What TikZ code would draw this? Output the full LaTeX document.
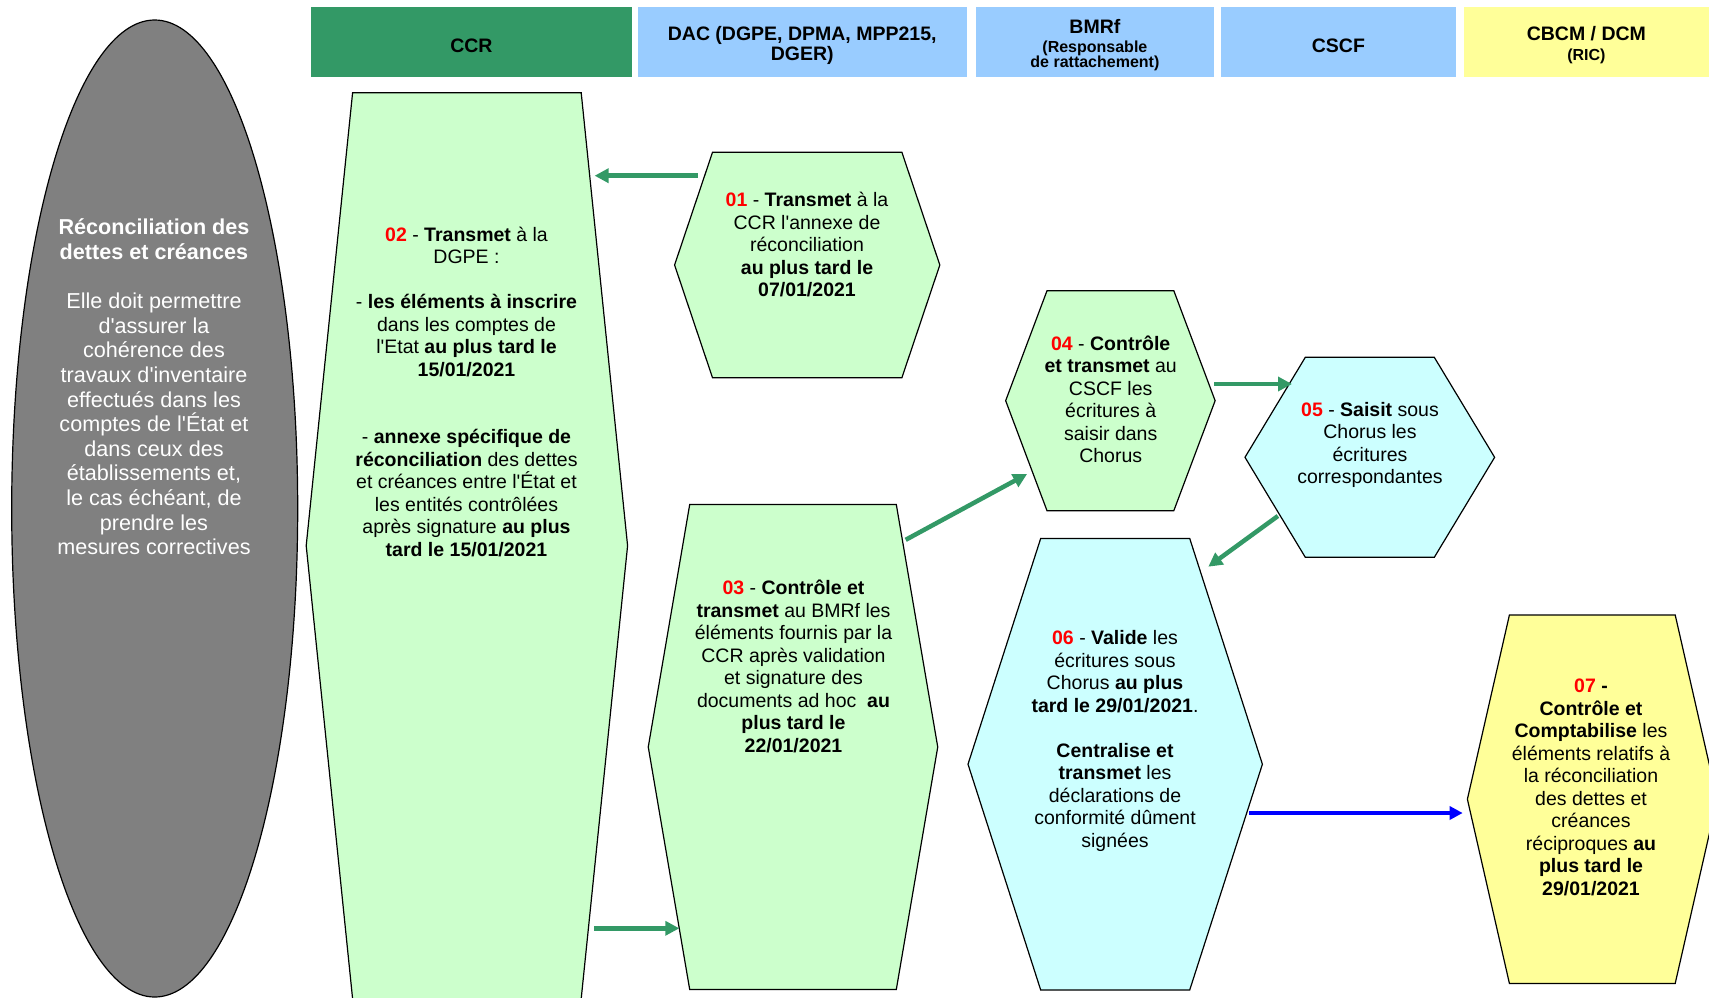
\documentclass[tikz,border=0pt]{standalone}
\usepackage{fontspec}
\newfontfamily\arialfont{Liberation Sans}
\usepackage{tikz}
\usetikzlibrary{shapes.geometric, shapes.symbols, arrows.meta, positioning}
\definecolor{ccrgreen}{RGB}{51,153,102}
\definecolor{headblue}{RGB}{153,204,255}
\definecolor{paleyellow}{RGB}{255,255,153}
\definecolor{palegreen}{RGB}{204,255,204}
\definecolor{palecyan}{RGB}{204,255,255}
\definecolor{introgray}{RGB}{128,128,128}
\newcommand{\smallhead}{\fontsize{16}{17}\selectfont}
\newcommand{\headstrut}{\rule{0pt}{21pt}} % text sits a bit low in the header
\newcommand{\stepno}[1]{\textcolor{red}{\textbf{#1}}}

\begin{document}
\begin{tikzpicture}[
			x=1pt, y=-1pt,
			every node/.style={font=\arialfont},
			colhead/.style={
					rectangle,
					minimum height=70pt,
					inner sep=0pt,
					align=center,
					font=\arialfont\bfseries\fontsize{19.5}{20}\selectfont
				},
			hexa/.style n args={3}{
					shape=signal,
					signal from=nowhere,
					signal to=east and west,
					draw=black,
					line width=1.2pt,
					minimum width=0pt,
					minimum height=0pt,
					inner xsep=#1pt, % half of the top edge
					inner ysep=#2pt, % half of the height
					signal pointer angle=#3
				},
			txt/.style={
					align=center,
					inner sep=0pt,
					font=\arialfont\fontsize{19.5}{22.5}\selectfont
				},
			garrow/.style={draw=ccrgreen, line width=4.5pt, -{Triangle[length=14pt, width=14pt]}},
			barrow/.style={draw=blue, line width=4.5pt, -{Triangle[length=13pt, width=13pt]}}
		]
		\useasboundingbox (0,0) rectangle (1709,997);
		\clip (0,0) rectangle (1709,997);

		% column headers
		\node[colhead, fill=ccrgreen, minimum width=321.6pt] (ccr) at (471.4,41.7) {\headstrut CCR};
		\node[colhead, fill=headblue, minimum width=329.2pt] (dac) at (802.2,41.7) {\headstrut DAC (DGPE, DPMA, MPP215,\\DGER)};
		\node[colhead, fill=headblue, minimum width=238.7pt] (bmrf) at (1094.9,41.7)
		{\headstrut BMRf\\[-1.8pt]{\smallhead (Responsable}\\[-4.8pt]{\smallhead de rattachement)}};
		\node[colhead, fill=headblue, minimum width=235.4pt] (cscf) at (1338.4,41.7) {\headstrut CSCF};
		\node[colhead, fill=paleyellow, minimum width=245.2pt] (cbcm) at (1586.4,41.7) {\headstrut CBCM / DCM\\[-0.2pt]{\smallhead (RIC)}};

		% left summary
		\node[ellipse, draw=black, line width=1.2pt, fill=introgray, minimum width=286pt, minimum height=977pt, inner sep=0pt] (intro) at (154.7,508.5) {};
		\node[txt, text=white, font=\arialfont\fontsize{21.6}{24.6}\selectfont] (t00) at (154,387)
		{\textbf{Réconciliation des}\\
			\textbf{dettes et créances}\\[24.6pt]
			Elle doit permettre\\
			d'assurer la\\
			cohérence des\\
			travaux d'inventaire\\
			effectués dans les\\
			comptes de l'État et\\
			dans ceux des\\
			établissements et,\\
			le cas échéant, de\\
			prendre les\\
			mesures correctives};

		% steps
		\node[hexa={94.7}{112.7}{142.8}, fill=palegreen] (h01) at (807.2,265) {};
		\node[hexa={114.3}{453}{168.3}, fill=palegreen] (h02) at (466.9,545.7) {};
		\node[hexa={103.3}{242.5}{160.6}, fill=palegreen] (h03) at (793,747) {};
		\node[hexa={63.4}{110}{138.8}, fill=palegreen] (h04) at (1110.4,400.7) {};
		\node[hexa={64.5}{100}{117.8}, fill=palecyan] (h05) at (1369.8,457.3) {};
		\node[hexa={74.5}{225.8}{144.3}, fill=palecyan] (h06) at (1115.2,764.2) {};
		\node[hexa={82.9}{184.2}{154.3}, fill=paleyellow] (h07) at (1592.3,799.2) {};

		\draw[garrow] ([shift={(-109.5,-89.3)}]h01.center) -- ([shift={(127.7,-370)}]h02.center);
		\draw[garrow] ([shift={(127.1,382.6)}]h02.center) -- ([shift={(-113.7,181.3)}]h03.center);
		\draw[garrow] ([shift={(112.7,-207.2)}]h03.center) -- ([shift={(-83.3,73.3)}]h04.center);
		\draw[garrow] ([shift={(103.9,-16.7)}]h04.center) -- ([shift={(-77.8,-73.3)}]h05.center);
		\draw[garrow] ([shift={(-91.9,58.7)}]h05.center) -- ([shift={(93.1,-197.5)}]h06.center);
		\draw[barrow] ([shift={(134.1,48.8)}]h06.center) -- ([shift={(-129.6,13.8)}]h07.center);

		\node[txt] (t01) at (807,244.6)
		{\stepno{01} - \textbf{Transmet} à la\\
			CCR l'annexe de\\
			réconciliation\\
			\textbf{au plus tard le}\\
			\textbf{07/01/2021}};
		\node[txt] (t02) at (466.5,391.8)
		{\stepno{02} - \textbf{Transmet} à la\\
			DGPE :\\[22.5pt]
			- \textbf{les éléments à inscrire}\\
			dans les comptes de\\
			l'Etat \textbf{au plus tard le}\\
			\textbf{15/01/2021}\\[45pt]
			- \textbf{annexe spécifique de}\\
			\textbf{réconciliation} des dettes\\
			et créances entre l'État et\\
			les entités contrôlées\\
			après signature \textbf{au plus}\\
			\textbf{tard le 15/01/2021}};
		\node[txt] (t03) at (793.5,666.4)
		{\stepno{03} - \textbf{Contrôle et}\\
			\textbf{transmet} au BMRf les\\
			éléments fournis par la\\
			CCR après validation\\
			et signature des\\
			documents ad hoc\ \ \textbf{au}\\
			\textbf{plus tard le}\\
			\textbf{22/01/2021}};
		\node[txt] (t04) at (1110.7,399.3)
		{\stepno{04} - \textbf{Contrôle}\\
			\textbf{et transmet} au\\
			CSCF les\\
			écritures à\\
			saisir dans\\
			Chorus};
		\node[txt] (t05) at (1370,445)
		{\stepno{05} - \textbf{Saisit} sous\\
			Chorus les\\
			écritures\\
			correspondantes};
		\node[txt] (t06) at (1115,740.8)
		{\stepno{06} - \textbf{Valide} les\\
			écritures sous\\
			Chorus \textbf{au plus}\\
			\textbf{tard le 29/01/2021}.\\[22.5pt]
			\textbf{Centralise et}\\
			\textbf{transmet} les\\
			déclarations de\\
			conformité dûment\\
			signées};
		\node[txt] (t07) at (1591,787.6)
		{\stepno{07} \textbf{-}\\
			\textbf{Contrôle et}\\
			\textbf{Comptabilise} les\\
			éléments relatifs à\\
			la réconciliation\\
			des dettes et\\
			créances\\
			réciproques \textbf{au}\\
			\textbf{plus tard le}\\
			\textbf{29/01/2021}};
	\end{tikzpicture}
\end{document}
